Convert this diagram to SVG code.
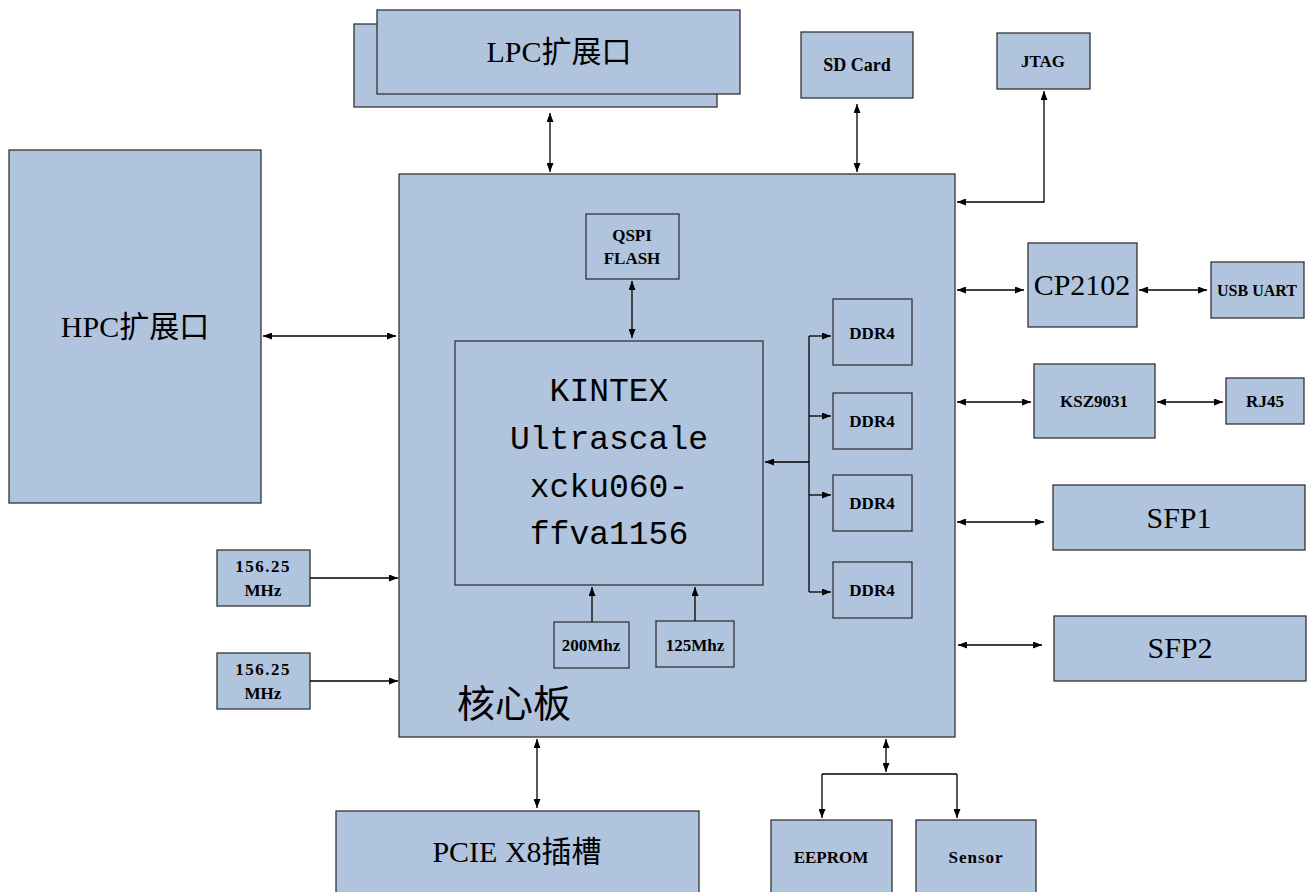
<svg xmlns="http://www.w3.org/2000/svg" width="1310" height="892" viewBox="0 0 1310 892">
<style>
.box{fill:#B0C4DE;stroke:#333;stroke-width:1.3}
.ln{fill:none;stroke:#000;stroke-width:1.3}
.big{font-family:"Liberation Serif","Noto Sans CJK SC",serif;font-size:30px;fill:#000;text-anchor:middle}
.sm{font-family:"Liberation Serif","Noto Sans CJK SC",serif;font-size:17px;font-weight:bold;fill:#000;text-anchor:middle}
.mono{font-family:"Liberation Serif",serif;font-size:17px;font-weight:bold;fill:#000;text-anchor:middle}
.chip{font-family:"Liberation Mono",monospace;font-size:33px;fill:#000;text-anchor:middle}
</style>
<defs>
<marker id="ah" markerUnits="userSpaceOnUse" markerWidth="9" markerHeight="7" refX="9" refY="3.5" orient="auto-start-reverse">
<path d="M0,0 L9,3.5 L0,7 z" fill="#000"/>
</marker>
</defs>
<rect width="1310" height="892" fill="#fff"/>
<g id="core">
<rect class="box" x="399" y="174" width="556" height="563"/>
<text x="457" y="717" style="font-family:'Noto Sans CJK SC',sans-serif;font-size:38px;fill:#000">核心板</text>
</g>
<g id="lpc">
<rect class="box" x="354" y="24" width="363" height="83"/>
<rect class="box" x="377" y="10" width="363" height="84"/>
<text class="big" x="559" y="62">LPC扩展口</text>
</g>
<g id="hpc">
<rect class="box" x="9" y="150" width="252" height="353"/>
<text class="big" x="135" y="337">HPC扩展口</text>
</g>
<g id="sdcard">
<rect class="box" x="801" y="32" width="112" height="66"/>
<text class="mono" x="857" y="71" style="font-size:18px">SD Card</text>
</g>
<g id="jtag">
<rect class="box" x="997" y="33" width="93" height="56"/>
<text class="sm" x="1043" y="67">JTAG</text>
</g>
<g id="qspi">
<rect class="box" x="586" y="214" width="93" height="65"/>
<text class="sm" x="632" y="241">QSPI</text>
<text class="sm" x="632" y="264">FLASH</text>
</g>
<g id="kintex">
<rect class="box" x="455" y="341" width="308" height="244"/>
<text class="chip" x="609" y="401">KINTEX</text>
<text class="chip" x="609" y="449">Ultrascale</text>
<text class="chip" x="609" y="497">xcku060-</text>
<text class="chip" x="609" y="544">ffva1156</text>
</g>
<g id="ddr4-1"><rect class="box" x="833" y="299" width="79" height="66"/><text class="sm" x="872" y="339">DDR4</text></g>
<g id="ddr4-2"><rect class="box" x="833" y="393" width="79" height="56"/><text class="sm" x="872" y="427">DDR4</text></g>
<g id="ddr4-3"><rect class="box" x="833" y="475" width="79" height="56"/><text class="sm" x="872" y="509">DDR4</text></g>
<g id="ddr4-4"><rect class="box" x="833" y="562" width="79" height="56"/><text class="sm" x="872" y="596">DDR4</text></g>
<g id="clk1">
<rect class="box" x="217" y="550" width="93" height="56"/>
<text class="mono" x="263" y="572" style="letter-spacing:1.5px">156.25</text>
<text class="sm" x="263" y="596">MHz</text>
</g>
<g id="clk2">
<rect class="box" x="217" y="653" width="93" height="56"/>
<text class="mono" x="263" y="675" style="letter-spacing:1.5px">156.25</text>
<text class="sm" x="263" y="699">MHz</text>
</g>
<g id="clk200">
<rect class="box" x="554" y="622" width="75" height="46"/>
<text class="sm" x="591" y="651">200Mhz</text>
</g>
<g id="clk125">
<rect class="box" x="656" y="621" width="78" height="46"/>
<text class="sm" x="695" y="651">125Mhz</text>
</g>
<g id="cp2102">
<rect class="box" x="1028" y="243" width="109" height="84"/>
<text class="big" x="1082" y="295">CP2102</text>
</g>
<g id="usbuart">
<rect class="box" x="1211" y="262" width="93" height="56"/>
<text class="mono" x="1257" y="296" style="font-size:16px">USB UART</text>
</g>
<g id="ksz9031">
<rect class="box" x="1034" y="364" width="121" height="74"/>
<text class="sm" x="1094" y="407">KSZ9031</text>
</g>
<g id="rj45">
<rect class="box" x="1226" y="378" width="78" height="46"/>
<text class="sm" x="1265" y="407">RJ45</text>
</g>
<g id="sfp1">
<rect class="box" x="1053" y="485" width="252" height="65"/>
<text class="big" x="1179" y="528">SFP1</text>
</g>
<g id="sfp2">
<rect class="box" x="1054" y="616" width="252" height="65"/>
<text class="big" x="1180" y="658">SFP2</text>
</g>
<g id="pcie">
<rect class="box" x="336" y="811" width="363" height="90"/>
<text class="big" x="517" y="862">PCIE X8插槽</text>
</g>
<g id="eeprom">
<rect class="box" x="771" y="820" width="121" height="80"/>
<text class="sm" x="831" y="863">EEPROM</text>
</g>
<g id="sensor">
<rect class="box" x="916" y="820" width="120" height="80"/>
<text class="mono" x="976" y="863" style="letter-spacing:1px">Sensor</text>
</g>
<g id="connectors">
<line class="ln" x1="550" y1="113" x2="550" y2="172" marker-start="url(#ah)" marker-end="url(#ah)"/>
<line class="ln" x1="857" y1="104" x2="857" y2="172" marker-start="url(#ah)" marker-end="url(#ah)"/>
<polyline class="ln" points="957,202 1044,202 1044,91" marker-start="url(#ah)" marker-end="url(#ah)"/>
<line class="ln" x1="632" y1="281" x2="632" y2="338" marker-start="url(#ah)" marker-end="url(#ah)"/>
<line class="ln" x1="809" y1="336" x2="809" y2="592"/>
<line class="ln" x1="809" y1="336" x2="831" y2="336" marker-end="url(#ah)"/>
<line class="ln" x1="809" y1="416" x2="831" y2="416" marker-end="url(#ah)"/>
<line class="ln" x1="809" y1="495" x2="831" y2="495" marker-end="url(#ah)"/>
<line class="ln" x1="809" y1="592" x2="831" y2="592" marker-end="url(#ah)"/>
<line class="ln" x1="809" y1="462" x2="765" y2="462" marker-end="url(#ah)"/>
<line class="ln" x1="263" y1="336" x2="396" y2="336" marker-start="url(#ah)" marker-end="url(#ah)"/>
<line class="ln" x1="310" y1="578" x2="398" y2="578" marker-end="url(#ah)"/>
<line class="ln" x1="310" y1="681" x2="398" y2="681" marker-end="url(#ah)"/>
<line class="ln" x1="592" y1="622" x2="592" y2="587" marker-end="url(#ah)"/>
<line class="ln" x1="695" y1="621" x2="695" y2="587" marker-end="url(#ah)"/>
<line class="ln" x1="957" y1="290" x2="1024" y2="290" marker-start="url(#ah)" marker-end="url(#ah)"/>
<line class="ln" x1="1139" y1="290" x2="1207" y2="290" marker-start="url(#ah)" marker-end="url(#ah)"/>
<line class="ln" x1="957" y1="402" x2="1031" y2="402" marker-start="url(#ah)" marker-end="url(#ah)"/>
<line class="ln" x1="1157" y1="402" x2="1223" y2="402" marker-start="url(#ah)" marker-end="url(#ah)"/>
<line class="ln" x1="957" y1="522" x2="1044" y2="522" marker-start="url(#ah)" marker-end="url(#ah)"/>
<line class="ln" x1="958" y1="645" x2="1042" y2="645" marker-start="url(#ah)" marker-end="url(#ah)"/>
<line class="ln" x1="537" y1="739" x2="537" y2="808" marker-start="url(#ah)" marker-end="url(#ah)"/>
<line class="ln" x1="886" y1="739" x2="886" y2="772" marker-start="url(#ah)" marker-end="url(#ah)"/>
<line class="ln" x1="822" y1="774" x2="957" y2="774"/>
<line class="ln" x1="822" y1="774" x2="822" y2="818" marker-end="url(#ah)"/>
<line class="ln" x1="957" y1="774" x2="957" y2="818" marker-end="url(#ah)"/>
</g>
</svg>
